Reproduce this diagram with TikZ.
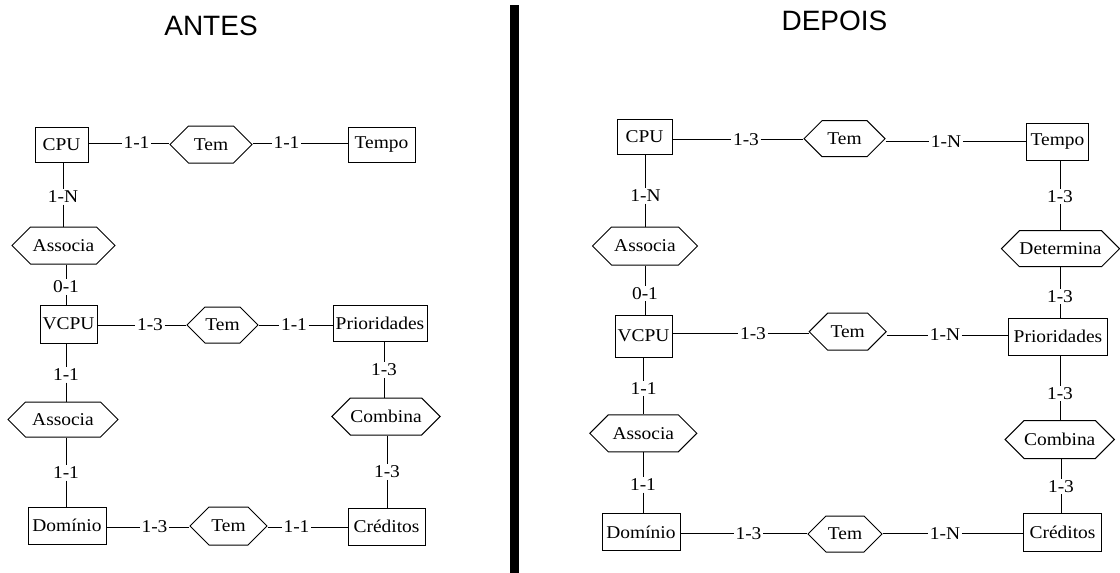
\documentclass[tikz,border=0pt]{standalone}
\usepackage{fontspec}
\setmainfont{Liberation Serif}[FakeStretch=1.08]
\newfontfamily\titlefont{Liberation Sans}
\usetikzlibrary{shapes.symbols}
\tikzset{
  ent/.style={draw, line width=1pt, rectangle, inner sep=0pt},
  rel/.style={draw, line width=1pt, shape=signal, signal to=east and west, signal from=nowhere, signal pointer angle=90, inner sep=0pt},
  card/.style={inner sep=1.5pt},
  conn/.style={line width=1pt},
  ttl/.style={font=\titlefont\fontsize{28}{32}\selectfont, inner sep=0pt}
}
\begin{document}
\begin{tikzpicture}[x=1pt, y=-1pt, font=\fontsize{18}{21}\selectfont]
\useasboundingbox (0,0) rectangle (1120,573);
% titles and separator
\node[ttl] (tA) at (211,26) {ANTES};
\node[ttl] (tB) at (834.5,20.5) {DEPOIS};
\fill[black] (510,5) rectangle (518.5,573);

% ---------- ANTES ----------
\node[ent, minimum width=53pt, minimum height=35pt] (CPUa) at (61.5,144.5) {CPU};
\node[rel, minimum width=82pt, minimum height=37pt] (TemA1) at (211,144.5) {Tem};
\node[ent, minimum width=67pt, minimum height=35pt] (TempoA) at (381.5,144.5) {Tempo};
\node[rel, minimum width=103pt, minimum height=37pt] (AssocA1) at (63.5,245.5) {Associa};
\node[ent, minimum width=57pt, minimum height=38pt] (VCPUA) at (68.5,324) {VCPU};
\node[rel, minimum width=71pt, minimum height=36pt] (TemA2) at (222.5,325) {Tem};
\node[ent, minimum width=94pt, minimum height=36pt] (PriorA) at (380,323) {Prioridades};
\node[rel, minimum width=108pt, minimum height=37pt] (CombA) at (386,416.5) {Combina};
\node[ent, minimum width=77pt, minimum height=37pt] (CredA) at (386.5,526.5) {Créditos};
\node[rel, minimum width=110pt, minimum height=35pt] (AssocA2) at (63,419.5) {Associa};
\node[ent, minimum width=78pt, minimum height=37pt] (DomA) at (67,525.5) {Domínio};
\node[rel, minimum width=77pt, minimum height=38pt] (TemA3) at (228.5,526) {Tem};

\node[card] (l1) at (136.5,143) {1-1};
\node[card] (l2) at (286.5,143) {1-1};
\node[card] (l3) at (63,197) {1-N};
\node[card] (l4) at (66,287) {0-1};
\node[card] (l5) at (150,325) {1-3};
\node[card] (l6) at (294,325) {1-1};
\node[card] (l7) at (66,375) {1-1};
\node[card] (l8) at (66,473) {1-1};
\node[card] (l9) at (384,370) {1-3};
\node[card] (l10) at (387,472) {1-3};
\node[card] (l11) at (154.5,527) {1-3};
\node[card] (l12) at (296.5,527) {1-1};

\draw[conn] (CPUa.east |- l1) -- (l1) -- (TemA1.west |- l1);
\draw[conn] (TemA1.east |- l2) -- (l2) -- (TempoA.west |- l2);
\draw[conn] (l3 |- CPUa.south) -- (l3) -- (l3 |- AssocA1.north);
\draw[conn] (l4 |- AssocA1.south) -- (l4) -- (l4 |- VCPUA.north);
\draw[conn] (VCPUA.east |- l5) -- (l5) -- (TemA2.west |- l5);
\draw[conn] (TemA2.east |- l6) -- (l6) -- (PriorA.west |- l6);
\draw[conn] (l7 |- VCPUA.south) -- (l7) -- (l7 |- AssocA2.north);
\draw[conn] (l8 |- AssocA2.south) -- (l8) -- (l8 |- DomA.north);
\draw[conn] (l9 |- PriorA.south) -- (l9) -- (l9 |- CombA.north);
\draw[conn] (l10 |- CombA.south) -- (l10) -- (l10 |- CredA.north);
\draw[conn] (DomA.east |- l11) -- (l11) -- (TemA3.west |- l11);
\draw[conn] (TemA3.east |- l12) -- (l12) -- (CredA.west |- l12);

% ---------- DEPOIS ----------
\node[ent, minimum width=55pt, minimum height=35pt] (CPUb) at (644.5,136.5) {CPU};
\node[rel, minimum width=81pt, minimum height=36pt] (TemB1) at (844.5,138.7) {Tem};
\node[ent, minimum width=62pt, minimum height=37pt] (TempoB) at (1057.5,141.7) {Tempo};
\node[rel, minimum width=105pt, minimum height=38pt] (AssocB1) at (645,246) {Associa};
\node[rel, minimum width=118pt, minimum height=36pt] (DetB) at (1060.5,248.7) {Determina};
\node[ent, minimum width=57pt, minimum height=42pt] (VCPUB) at (643.5,336) {VCPU};
\node[rel, minimum width=77pt, minimum height=37pt] (TemB2) at (847.7,331.7) {Tem};
\node[ent, minimum width=99pt, minimum height=37pt] (PriorB) at (1058,336.7) {Prioridades};
\node[rel, minimum width=107pt, minimum height=37pt] (AssocB2) at (643.3,433.3) {Associa};
\node[rel, minimum width=107pt, minimum height=38pt] (CombB) at (1059.7,439.5) {Combina};
\node[ent, minimum width=78pt, minimum height=37pt] (DomB) at (641,532.3) {Domínio};
\node[rel, minimum width=74pt, minimum height=36pt] (TemB3) at (845,534) {Tem};
\node[ent, minimum width=78pt, minimum height=38pt] (CredB) at (1062.5,532.5) {Créditos};

\node[card] (r1) at (746,139.3) {1-3};
\node[card] (r2) at (946,141.7) {1-N};
\node[card] (r3) at (645.5,196) {1-N};
\node[card] (r4) at (645,293.5) {0-1};
\node[card] (r5) at (1060,196.5) {1-3};
\node[card] (r6) at (1060,296.5) {1-3};
\node[card] (r7) at (753,333.5) {1-3};
\node[card] (r8) at (945,335) {1-N};
\node[card] (r9) at (643.7,388.3) {1-1};
\node[card] (r10) at (1060,393.3) {1-3};
\node[card] (r11) at (643,485) {1-1};
\node[card] (r12) at (1061,486.7) {1-3};
\node[card] (r13) at (748.5,533.3) {1-3};
\node[card] (r14) at (945,533.3) {1-N};

\draw[conn] (CPUb.east |- r1) -- (r1) -- (TemB1.west |- r1);
\draw[conn] (TemB1.east |- r2) -- (r2) -- (TempoB.west |- r2);
\draw[conn] (r3 |- CPUb.south) -- (r3) -- (r3 |- AssocB1.north);
\draw[conn] (r4 |- AssocB1.south) -- (r4) -- (r4 |- VCPUB.north);
\draw[conn] (r5 |- TempoB.south) -- (r5) -- (r5 |- DetB.north);
\draw[conn] (r6 |- DetB.south) -- (r6) -- (r6 |- PriorB.north);
\draw[conn] (VCPUB.east |- r7) -- (r7) -- (TemB2.west |- r7);
\draw[conn] (TemB2.east |- r8) -- (r8) -- (PriorB.west |- r8);
\draw[conn] (r9 |- VCPUB.south) -- (r9) -- (r9 |- AssocB2.north);
\draw[conn] (r10 |- PriorB.south) -- (r10) -- (r10 |- CombB.north);
\draw[conn] (r11 |- AssocB2.south) -- (r11) -- (r11 |- DomB.north);
\draw[conn] (r12 |- CombB.south) -- (r12) -- (r12 |- CredB.north);
\draw[conn] (DomB.east |- r13) -- (r13) -- (TemB3.west |- r13);
\draw[conn] (TemB3.east |- r14) -- (r14) -- (CredB.west |- r14);
\end{tikzpicture}
\end{document}
